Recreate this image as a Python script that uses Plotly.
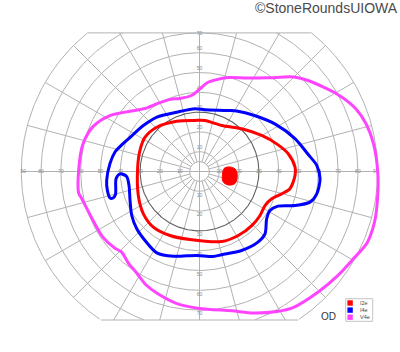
import numpy as np
import plotly.graph_objects as go

W, H = 400, 352

# ---------------- data (theta in degrees, r in degrees of visual field) ----------------
SERIES_NAMES = ["I2e", "I4e", "V4e"]
SERIES_COLORS = ["#ff0000", "#0000ff", "#ff44ff"]

I2E_THETA = [2.6, 11.3, 19.7, 30.1, 45.4, 64.2, 84, 95, 114.4, 134, 147.8, 160.6, 176,
             201.4, 217, 230.3, 245.2, 262, 287.5, 301.2, 314, 324, 332.5, 339.3, 344.8,
             349.2, 357.6, 362.6]
I2E_R = [48.3, 45.7, 41.4, 36.3, 30.3, 25.8, 25.9, 25.9, 27.9, 31.1, 32.5, 31.9, 31.3,
         33.2, 35.5, 36.5, 35.6, 34.7, 37.1, 37.8, 38, 37.8, 37.3, 39, 43,
         46.5, 48.3, 48.3]

I4E_THETA = [3, 9, 19, 32, 45, 57.5, 65, 85, 94, 111, 128, 141, 154, 162.6, 167, 175,
             185.5, 191.7, 196.5, 197, 195.3, 185, 181.7, 183.9, 191.3, 202.6, 213, 222.4,
             231.7, 242.3, 252.9, 268, 279, 285, 298, 309.6, 316.4, 324.8, 331, 336.2,
             340.4, 344.5, 349.2, 356.5, 363]
I4E_R = [59.3, 55.5, 51, 45.1, 39.8, 36.1, 34, 31.3, 31.8, 32.1, 34.9, 36.7, 39.1, 42.1, 43.8, 45.4,
         47.1, 47.5, 47.1, 45.7, 44, 42.3, 40.2, 36.9, 36.3, 38, 40.8, 42.9,
         44.4, 46.4, 44.8, 42.4, 43.5, 43.5, 45.2, 46.3, 45.7, 41.5, 40.7, 43.3,
         51.2, 57.9, 60.3, 61, 59.3]

V4E_THETA = [0, 9, 16, 22, 29, 40, 45, 54, 63, 73, 80, 85, 90, 96, 105, 112, 122, 129, 136,
             148, 157, 167, 179, 190, 193, 204, 214, 222, 226, 232, 238.5, 245, 251, 260,
             270, 283, 291, 299, 304.5, 315, 323, 330, 337, 344, 351, 360]
V4E_R = [90, 89, 87.5, 85, 80, 71.5, 67.5, 58.5, 53, 49.6, 47, 45, 41.5, 38.6, 38.2, 39.3, 40.4, 41.5, 44.5,
         53.3, 58.3, 60.5, 61, 62, 61, 59.2, 59, 57.7, 56.6, 58.5, 60.4, 63.4, 65.2, 67.6,
         69.2, 72.2, 76.5, 80.8, 83.4, 85.5, 87.4, 89.2, 92, 92, 91, 90]

# blind spot (filled, I2e colour)
BLIND_THETA = [8.8, 4.1, 354, 341.2, 334.7, 336.8, 352.6, 6.9, 8.8]
BLIND_R = [15.1, 18, 19.2, 18.9, 15.9, 12.9, 11.7, 12.5, 15.1]

# grid definition
RING_RADII = [5, 10, 20, 30, 40, 50, 60, 70, 80, 90]
HIGHLIGHT_RING = 30
SPOKE_ANGLES = list(range(0, 360, 15))
INNER_RING = 5
FIELD_MAX = 90      # outer circle
FIELD_TOP = 70      # top chord
FIELD_BOTTOM = 75   # bottom chord
H_TICKS = [10, 20, 30, 40, 50, 60, 70, 80, 90]
V_TICKS = [10, 20, 30, 40, 50, 60, 70]

TITLE = "\u00a9StoneRoundsUIOWA"
EYE = "OD"

# ---------------- helpers ----------------
PX_PER_DEG = 1.98
CX, CY = 199.5, 171.5


def to_xy(theta, r):
    t = np.radians(np.asarray(theta, dtype=float))
    rr = np.asarray(r, dtype=float)
    return rr * np.cos(t), rr * np.sin(t)


def px(x):
    return x / W


def py(y):
    return 1 - y / H


GRID = "#b2b2b2"
FONT = "Liberation Sans, Arial, sans-serif"

fig = go.Figure()

# rings
gx, gy = [], []
th = np.arange(0, 360.25, 0.5)
for rr in RING_RADII:
    if rr == HIGHLIGHT_RING:
        continue
    x, y = to_xy(th, np.full_like(th, rr))
    inside = (y <= FIELD_TOP + 1e-9) & (y >= -FIELD_BOTTOM - 1e-9)
    for xi, yi, ok in zip(x, y, inside):
        gx.append(float(xi) if ok else None)
        gy.append(float(yi) if ok else None)
    gx.append(None)
    gy.append(None)

# spokes
for a in SPOKE_ANGLES:
    s = np.sin(np.radians(a))
    rmax = FIELD_MAX
    if s > 1e-9:
        rmax = min(rmax, FIELD_TOP / s)
    elif s < -1e-9:
        rmax = min(rmax, FIELD_BOTTOM / -s)
    rmin = 0 if a % 90 == 0 else INNER_RING
    x, y = to_xy([a, a], [rmin, rmax])
    gx += [float(x[0]), float(x[1]), None]
    gy += [float(y[0]), float(y[1]), None]

# chords
xt = np.sqrt(FIELD_MAX ** 2 - FIELD_TOP ** 2)
xb = np.sqrt(FIELD_MAX ** 2 - FIELD_BOTTOM ** 2)
gx += [-xt, xt, None, -xb, xb, None]
gy += [FIELD_TOP, FIELD_TOP, None, -FIELD_BOTTOM, -FIELD_BOTTOM, None]

fig.add_trace(go.Scatter(x=gx, y=gy, mode="lines", line=dict(color=GRID, width=1),
                         hoverinfo="skip", showlegend=False))

# highlighted 30 deg ring
hx, hy = to_xy(th, np.full_like(th, HIGHLIGHT_RING))
fig.add_trace(go.Scatter(x=hx, y=hy, mode="lines", line=dict(color="#606060", width=1.1),
                         hoverinfo="skip", showlegend=False))

# tick labels
lab_t, lab_r, lab_s = [], [], []
for t in H_TICKS:
    for ang in (0, 180):
        lab_t.append(ang)
        lab_r.append(min(t, FIELD_MAX - 1))
        lab_s.append(str(t))
for t in V_TICKS:
    lab_t.append(90)
    lab_r.append(min(t + 2, FIELD_TOP - 0.6))
    lab_s.append(str(t))
    lab_t.append(270)
    lab_r.append(t + 2)
    lab_s.append(str(t))
lx, ly = to_xy(lab_t, lab_r)
fig.add_trace(go.Scatter(x=lx, y=ly, mode="text", text=lab_s,
                         textfont=dict(size=5, color="#8a8a8a", family=FONT),
                         hoverinfo="skip", showlegend=False))

# isopters
for (tt, rr), name, col in zip([(I2E_THETA, I2E_R), (I4E_THETA, I4E_R), (V4E_THETA, V4E_R)],
                              SERIES_NAMES, SERIES_COLORS):
    x, y = to_xy(tt, rr)
    fig.add_trace(go.Scatter(x=x, y=y, mode="lines", name=name,
                             line=dict(color=col, width=3, shape="spline", smoothing=0.8),
                             hoverinfo="skip", showlegend=False))

# blind spot
bx, by = to_xy(BLIND_THETA, BLIND_R)
fig.add_trace(go.Scatter(x=bx, y=by, mode="lines", fill="toself", fillcolor=SERIES_COLORS[0],
                         line=dict(color=SERIES_COLORS[0], width=1, shape="spline"),
                         hoverinfo="skip", showlegend=False))

# axes ranges so that 1 deg = PX_PER_DEG px, centre at (CX, CY)
xr = [-CX / PX_PER_DEG, (W - CX) / PX_PER_DEG]
yr = [-(H - CY) / PX_PER_DEG, CY / PX_PER_DEG]

shapes = []
annotations = []

# legend (manual, compact)
LEG_X0, LEG_Y0, LEG_X1, LEG_Y1 = 345.7, 298.7, 372.7, 321.3
shapes.append(dict(type="rect", xref="paper", yref="paper",
                   x0=px(LEG_X0), x1=px(LEG_X1), y0=py(LEG_Y1), y1=py(LEG_Y0),
                   line=dict(color="#c4c4c4", width=1), fillcolor="white"))
for i, (name, col) in enumerate(zip(SERIES_NAMES, SERIES_COLORS)):
    yc = 303.0 + 7.1 * i
    shapes.append(dict(type="rect", xref="paper", yref="paper",
                       x0=px(347.4), x1=px(352.8), y0=py(yc + 2.7), y1=py(yc - 2.7),
                       line=dict(width=0), fillcolor=col))
    annotations.append(dict(x=px(358.5), y=py(yc), xref="paper", yref="paper", text=name,
                            showarrow=False, xanchor="left", yanchor="middle",
                            font=dict(size=5.5, color="#444", family=FONT), borderpad=0))

annotations.append(dict(x=px(398.5), y=py(8.2), xref="paper", yref="paper", text=TITLE,
                        showarrow=False, xanchor="right", yanchor="middle",
                        font=dict(size=14, color="#4a4a4a", family=FONT), borderpad=0))
annotations.append(dict(x=px(328.5), y=py(316.6), xref="paper", yref="paper", text=EYE,
                        showarrow=False, xanchor="center", yanchor="middle",
                        font=dict(size=10, color="#333", family=FONT), borderpad=0))

fig.update_layout(
    width=W, height=H,
    margin=dict(l=0, r=0, t=0, b=0),
    paper_bgcolor="white", plot_bgcolor="white",
    xaxis=dict(range=xr, visible=False, fixedrange=True),
    yaxis=dict(range=yr, visible=False, fixedrange=True),
    showlegend=False, hovermode=False,
    shapes=shapes, annotations=annotations,
)

fig.write_html("out.html", config={"displayModeBar": False})
